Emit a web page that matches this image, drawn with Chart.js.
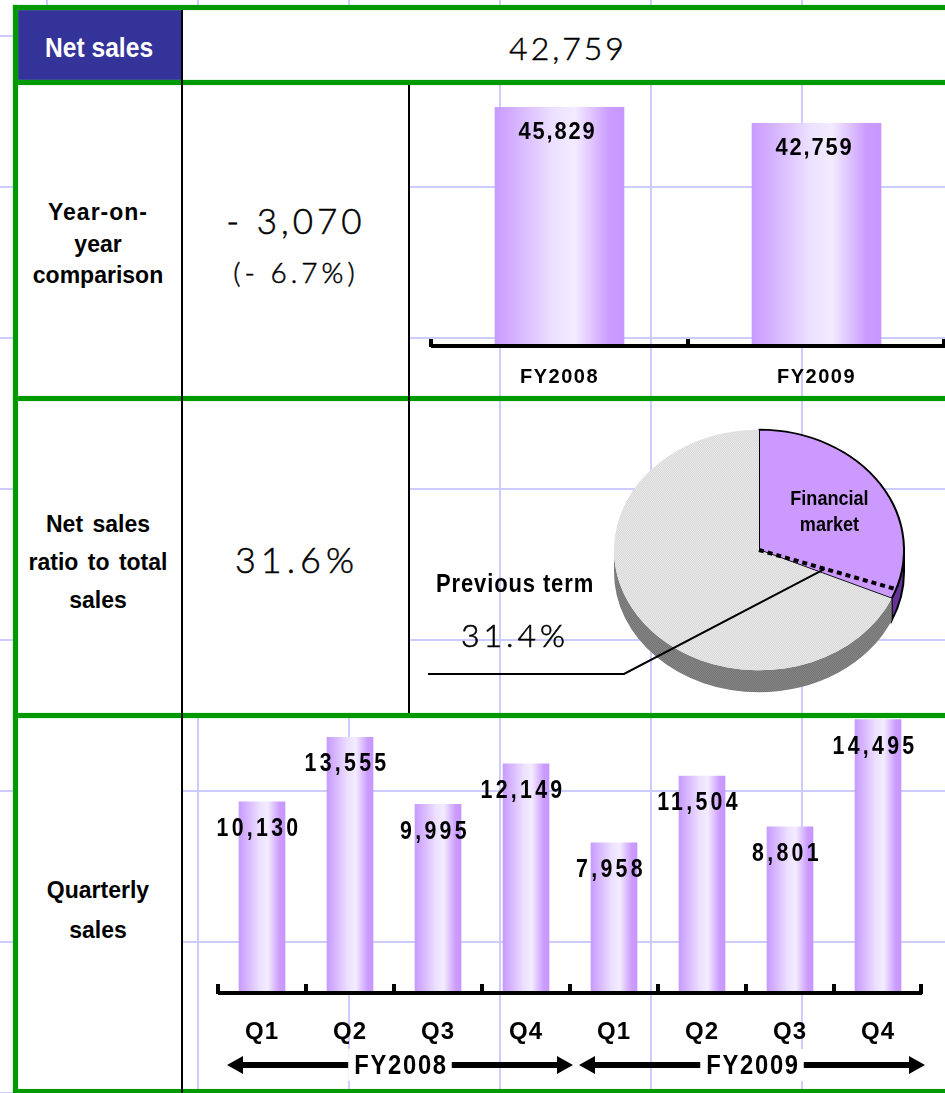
<!DOCTYPE html>
<html>
<head>
<meta charset="utf-8">
<script src="https://cdn.jsdelivr.net/npm/chart.js@4.4.0/dist/chart.umd.min.js"></script>
<style>
  body {
    margin: 0; width: 945px; height: 1093px; overflow: hidden; position: relative;
    background-color: #fff;
    background-image: linear-gradient(to right, #ccccff 2px, transparent 2px),
                      linear-gradient(to bottom, #ccccff 2px, transparent 2px);
    background-size: 151px 151px;
    background-position: 46px 35px;
    font-family: "Liberation Sans", Arial, sans-serif;
  }
  .box { position: absolute; }
  .white { background: #fff; }
  .green { background: #009900; box-shadow: 0 0 1px #66cc66; }
  .black { background: #000; }
  .t { position: absolute; transform: translate(-50%, -50%); white-space: nowrap; color: #000; }
  .lbl { font-weight: bold; font-size: 23px; word-spacing: 3px; }
  .num { font-family: Lato, "Noto Sans", sans-serif; font-weight: 300; -webkit-text-stroke: 0.5px #000; }
  canvas { position: absolute; }
</style>
</head>
<body>
<!-- cell backgrounds -->
<div class="box white" style="left:18px;top:10px;width:927px;height:70px"></div>
<div class="box" style="left:18px;top:10px;width:163px;height:70px;background:#333399"></div>
<div class="box white" style="left:18px;top:85px;width:391px;height:628px"></div>
<div class="box white" style="left:18px;top:717px;width:164px;height:376px"></div>

<!-- borders -->
<div class="box green" style="left:13px;top:5px;width:932px;height:5px"></div>
<div class="box green" style="left:13px;top:80px;width:932px;height:5px"></div>
<div class="box green" style="left:13px;top:396px;width:932px;height:5px"></div>
<div class="box green" style="left:13px;top:713px;width:932px;height:5px"></div>
<div class="box green" style="left:13px;top:1089px;width:932px;height:4px"></div>
<div class="box green" style="left:13px;top:5px;width:5px;height:1088px"></div>
<div class="box black" style="left:181px;top:10px;width:2px;height:1083px"></div>
<div class="box black" style="left:408px;top:85px;width:2px;height:628px"></div>

<!-- text cells -->
<div class="t" style="left:99px;top:48px;color:#fff;font-weight:bold;font-size:28px;transform:translate(-50%,-50%) scaleX(0.88)">Net sales</div>
<div class="t num" style="left:568px;top:47px;font-size:32px;letter-spacing:3px">42,759</div>

<div class="t lbl" style="left:98px;top:212px;letter-spacing:1px">Year-on-</div>
<div class="t lbl" style="left:98px;top:244px">year</div>
<div class="t lbl" style="left:98px;top:275px">comparison</div>
<div class="t num" style="left:296px;top:220px;font-size:35px;letter-spacing:4px">- 3,070</div>
<div class="t num" style="left:296px;top:272px;font-size:28px;letter-spacing:4px">(- 6.7%)</div>

<div class="t lbl" style="left:98px;top:524px">Net sales</div>
<div class="t lbl" style="left:98px;top:562px">ratio to total</div>
<div class="t lbl" style="left:98px;top:600px">sales</div>
<div class="t num" style="left:297px;top:559px;font-size:36px;letter-spacing:5px">31.6%</div>

<div class="t lbl" style="left:98px;top:890px">Quarterly</div>
<div class="t lbl" style="left:98px;top:930px">sales</div>

<canvas id="yearChart" width="534" height="311" style="left:411px;top:86px;width:534px;height:311px"></canvas>
<canvas id="shareChart" width="535" height="318" style="left:410px;top:395px;width:535px;height:318px"></canvas>
<canvas id="quarterChart" width="762" height="393" style="left:183px;top:700px;width:762px;height:393px"></canvas>

<script>
// chart values
const yearLabels = ["FY2008", "FY2009"];
const yearSales = [45829, 42759];

const quarterLabels = ["Q1", "Q2", "Q3", "Q4", "Q1", "Q2", "Q3", "Q4"];
const quarterSales = [10130, 13555, 9995, 12149, 7958, 11504, 8801, 14495];
const fiscalGroups = ["FY2008", "FY2009"];

const shareLabels = ["Financial", "market"];
const shareNames = ["Financial market", "Other"];
const shareNow = [31.6, 68.4];
const sharePrev = 31.4;

const BOLD = "'Liberation Sans', sans-serif";
const THIN = "Lato, 'Noto Sans', sans-serif";

Chart.defaults.font.family = BOLD;
Chart.defaults.color = "#000";

// text squeezed horizontally, the original uses a condensed gothic face
function narrowText(ctx, text, x, y, sx) {
  ctx.save();
  ctx.translate(x, y);
  ctx.scale(sx, 1);
  ctx.fillText(text, 0, 0);
  ctx.restore();
}

// horizontal gradient that makes the bars look like cylinders
function cylinder(c, half) {
  if (c.type !== "data" || !c.chart.scales.x) return "#cc99ff";
  const x = c.chart.scales.x.getPixelForValue(c.dataIndex);
  if (!isFinite(x)) return "#cc99ff";
  const g = c.chart.ctx.createLinearGradient(x - half, 0, x + half, 0);
  g.addColorStop(0, "#c89cff");
  g.addColorStop(0.12, "#d2acff");
  g.addColorStop(0.45, "#ece0ff");
  g.addColorStop(0.62, "#f3ecff");
  g.addColorStop(0.88, "#cc9dff");
  g.addColorStop(1, "#c796ff");
  return g;
}

// values printed near the top of each bar
const valueLabels = {
  id: "valueLabels",
  afterDatasetsDraw(chart, args, opts) {
    const ctx = chart.ctx;
    const values = chart.data.datasets[0].data;
    ctx.save();
    ctx.font = opts.font;
    ctx.letterSpacing = opts.spacing;
    ctx.fillStyle = "#000";
    ctx.textAlign = "center";
    ctx.textBaseline = "middle";
    chart.getDatasetMeta(0).data.forEach(function(bar, i) {
      narrowText(ctx, values[i].toLocaleString("en-US"), bar.x + opts.dx, bar.y + opts.dy, opts.sx);
    });
    ctx.restore();
  }
};

// thick base line with small upward ticks at category borders
const axisFrame = {
  id: "axisFrame",
  afterDatasetsDraw(chart, args, opts) {
    const ctx = chart.ctx;
    const x = chart.scales.x;
    const y0 = chart.chartArea.bottom;
    const n = chart.data.labels.length;
    const step = (x.right - x.left) / n;
    ctx.save();
    ctx.strokeStyle = "#000";
    ctx.lineWidth = opts.width;
    ctx.beginPath();
    ctx.moveTo(x.left, y0);
    ctx.lineTo(x.right, y0);
    for (let i = 0; i <= n; i++) {
      const px = Math.min(x.left + i * step, x.right - 1);
      ctx.moveTo(px, y0 + 1);
      ctx.lineTo(px, y0 - opts.tick);
    }
    ctx.stroke();
    ctx.restore();
  }
};

const tickSpacing = {
  id: "tickSpacing",
  beforeDraw(chart, args, opts) {
    chart.ctx.letterSpacing = opts.spacing;
  }
};

// fiscal year arrows under the quarter labels
const fyArrows = {
  id: "fyArrows",
  afterDraw(chart, args, opts) {
    const ctx = chart.ctx;
    const x = chart.scales.x;
    const per = quarterLabels.length / fiscalGroups.length;
    const step = (x.right - x.left) / quarterLabels.length;
    const y = chart.chartArea.bottom + opts.offset;
    ctx.save();
    ctx.strokeStyle = "#000";
    fiscalGroups.forEach(function(name, g) {
      const x0 = x.left + g * per * step + 9;
      const x1 = x.left + (g + 1) * per * step + 3;
      ctx.lineWidth = 6;
      ctx.beginPath();
      ctx.moveTo(x0 + 10, y);
      ctx.lineTo(x1 - 10, y);
      ctx.stroke();
      ctx.fillStyle = "#000";
      ctx.beginPath();
      ctx.moveTo(x0, y);
      ctx.lineTo(x0 + 16, y - 9);
      ctx.lineTo(x0 + 16, y + 9);
      ctx.closePath();
      ctx.moveTo(x1, y);
      ctx.lineTo(x1 - 16, y - 9);
      ctx.lineTo(x1 - 16, y + 9);
      ctx.closePath();
      ctx.fill();
      ctx.font = "bold 28px " + BOLD;
      ctx.letterSpacing = "2px";
      const w = ctx.measureText(name).width * 0.85;
      const cx = (x0 + x1) / 2;
      ctx.fillStyle = "#fff";
      ctx.fillRect(cx - w / 2 - 5, y - 16, w + 10, 32);
      ctx.fillStyle = "#000";
      ctx.textAlign = "center";
      ctx.textBaseline = "middle";
      narrowText(ctx, name, cx + 1, y + 1, 0.85);
    });
    ctx.restore();
  }
};

const yearChart = new Chart(document.getElementById("yearChart"), {
  type: "bar",
  data: {
    labels: yearLabels,
    datasets: [{
      data: yearSales,
      backgroundColor: function(c) { return cylinder(c, 64.5); },
      borderWidth: 0,
      barThickness: 129
    }]
  },
  options: {
    responsive: false,
    animation: false,
    events: [],
    layout: { padding: { left: 20, right: 0, top: 10, bottom: 0 } },
    plugins: {
      legend: { display: false },
      tooltip: { enabled: false },
      tickSpacing: { spacing: "1.5px" },
      valueLabels: { font: "bold 23px " + BOLD, spacing: "2px", sx: 0.95, dx: -2, dy: 25 },
      axisFrame: { width: 4, tick: 7 }
    },
    scales: {
      x: {
        grid: { display: false, drawTicks: false },
        border: { display: false },
        ticks: { color: "#000", font: { size: 20, weight: "bold" }, padding: 19 },
        afterFit: function(s) { s.height = 51; }
      },
      y: { display: false, min: 0, max: 48000 }
    }
  },
  plugins: [tickSpacing, valueLabels, axisFrame]
});
yearChart.update();

const quarterChart = new Chart(document.getElementById("quarterChart"), {
  type: "bar",
  data: {
    labels: quarterLabels,
    datasets: [{
      data: quarterSales,
      backgroundColor: function(c) { return cylinder(c, 23); },
      borderWidth: 0,
      barThickness: 46
    }]
  },
  options: {
    responsive: false,
    animation: false,
    events: [],
    layout: { padding: { left: 35, right: 23, top: 10, bottom: 0 } },
    plugins: {
      legend: { display: false },
      tooltip: { enabled: false },
      tickSpacing: { spacing: "1px" },
      valueLabels: { font: "bold 26px " + BOLD, spacing: "4px", sx: 0.82, dx: -3, dy: 27 },
      axisFrame: { width: 4, tick: 9 },
      fyArrows: { offset: 72 }
    },
    scales: {
      x: {
        grid: { display: false, drawTicks: false },
        border: { display: false },
        ticks: { color: "#000", font: { size: 24, weight: "bold" }, padding: 25 },
        afterFit: function(s) { s.height = 100; }
      },
      y: { display: false, min: 0, max: 15000 }
    }
  },
  plugins: [tickSpacing, valueLabels, axisFrame, fyArrows]
});
quarterChart.update();

// stippled fills like the original grey slice
function stipple(a, b) {
  const p = document.createElement("canvas");
  p.width = 2; p.height = 2;
  const g = p.getContext("2d");
  g.fillStyle = a; g.fillRect(0, 0, 2, 2);
  g.fillStyle = b; g.fillRect(0, 0, 1, 1); g.fillRect(1, 1, 1, 1);
  return g.createPattern(p, "repeat");
}
const pctx = document.getElementById("shareChart").getContext("2d");
const greyTop = stipple("#eeeeee", "#d4d4d4");
const greySide = stipple("#8a8a8a", "#707070");

// tilted pie with a side wall, plus the previous-term marker
const pie3d = {
  id: "pie3d",
  beforeDatasetsDraw(chart, args, opts) {
    const ctx = chart.ctx;
    const arcs = chart.getDatasetMeta(0).data;
    const cy = arcs[0].y;
    ctx.save();
    ctx.translate(0, cy);
    ctx.scale(1, opts.tilt);
    ctx.translate(0, -cy);
    const d = opts.depth / opts.tilt;
    arcs.forEach(function(arc, i) {
      const a0 = Math.max(arc.startAngle, 0);
      const a1 = Math.min(arc.endAngle, Math.PI);
      if (a1 <= a0) return;
      ctx.beginPath();
      ctx.arc(arc.x, arc.y, arc.outerRadius, a0, a1);
      ctx.arc(arc.x, arc.y + d, arc.outerRadius, a1, a0, true);
      ctx.closePath();
      ctx.fillStyle = opts.sides[i];
      ctx.fill();
      if (i === 0) {
        ctx.lineWidth = 2;
        ctx.strokeStyle = "#000";
        ctx.stroke();
      }
    });
  },
  afterDatasetsDraw(chart) {
    chart.ctx.restore();
  },
  afterDraw(chart, args, opts) {
    const ctx = chart.ctx;
    const arc = chart.getDatasetMeta(0).data[0];
    const r = arc.outerRadius;
    const a = -Math.PI / 2 + sharePrev / 100 * Math.PI * 2 + opts.nudge;
    const ex = arc.x + r * Math.cos(a);
    const ey = arc.y + r * Math.sin(a) * opts.tilt;
    ctx.save();
    ctx.strokeStyle = "#000";
    ctx.lineWidth = 4;
    ctx.setLineDash([5, 4]);
    ctx.beginPath();
    ctx.moveTo(arc.x, arc.y);
    ctx.lineTo(ex, ey);
    ctx.stroke();
    ctx.setLineDash([]);
    // leader line to the caption
    ctx.lineWidth = 2;
    ctx.beginPath();
    ctx.moveTo(arc.x + (ex - arc.x) * 0.48, arc.y + (ey - arc.y) * 0.48);
    ctx.lineTo(opts.elbow[0], opts.elbow[1]);
    ctx.lineTo(opts.lineEnd, opts.elbow[1]);
    ctx.stroke();
    // slice caption
    const mid = (arc.startAngle + arc.endAngle) / 2;
    const lx = arc.x + r * 0.58 * Math.cos(mid);
    const ly = arc.y + r * 0.58 * Math.sin(mid) * opts.tilt;
    ctx.fillStyle = "#000";
    ctx.textAlign = "center";
    ctx.textBaseline = "middle";
    ctx.font = "bold 21px " + BOLD;
    narrowText(ctx, shareLabels[0], lx, ly - 13, 0.86);
    narrowText(ctx, shareLabels[1], lx, ly + 13, 0.86);
    // previous term caption
    ctx.font = "bold 25px " + BOLD;
    ctx.letterSpacing = "1px";
    narrowText(ctx, "Previous term", opts.caption[0], opts.caption[1], 0.88);
    ctx.font = "300 32px " + THIN;
    ctx.letterSpacing = "4px";
    ctx.lineWidth = 0.6;
    ctx.fillText(sharePrev.toFixed(1) + "%", opts.caption[0], opts.caption[1] + 52);
    ctx.strokeText(sharePrev.toFixed(1) + "%", opts.caption[0], opts.caption[1] + 52);
    ctx.restore();
  }
};

new Chart(pctx, {
  type: "pie",
  data: {
    labels: shareNames,
    datasets: [{
      data: shareNow,
      backgroundColor: ["#cc99ff", greyTop],
      borderColor: ["#000", "#dddddd"],
      borderWidth: [2, 0],
      clip: false
    }]
  },
  options: {
    responsive: false,
    animation: false,
    events: [],
    radius: 145,
    layout: { padding: { left: 204, right: 41, top: 10, bottom: 18 } },
    plugins: {
      legend: { display: false },
      tooltip: { enabled: false },
      pie3d: {
        tilt: 0.83, depth: 22, sides: ["#663399", greySide], nudge: -0.07,
        elbow: [214, 279], lineEnd: 18, caption: [105, 190]
      }
    }
  },
  plugins: [pie3d]
});
</script>
</body>
</html>
